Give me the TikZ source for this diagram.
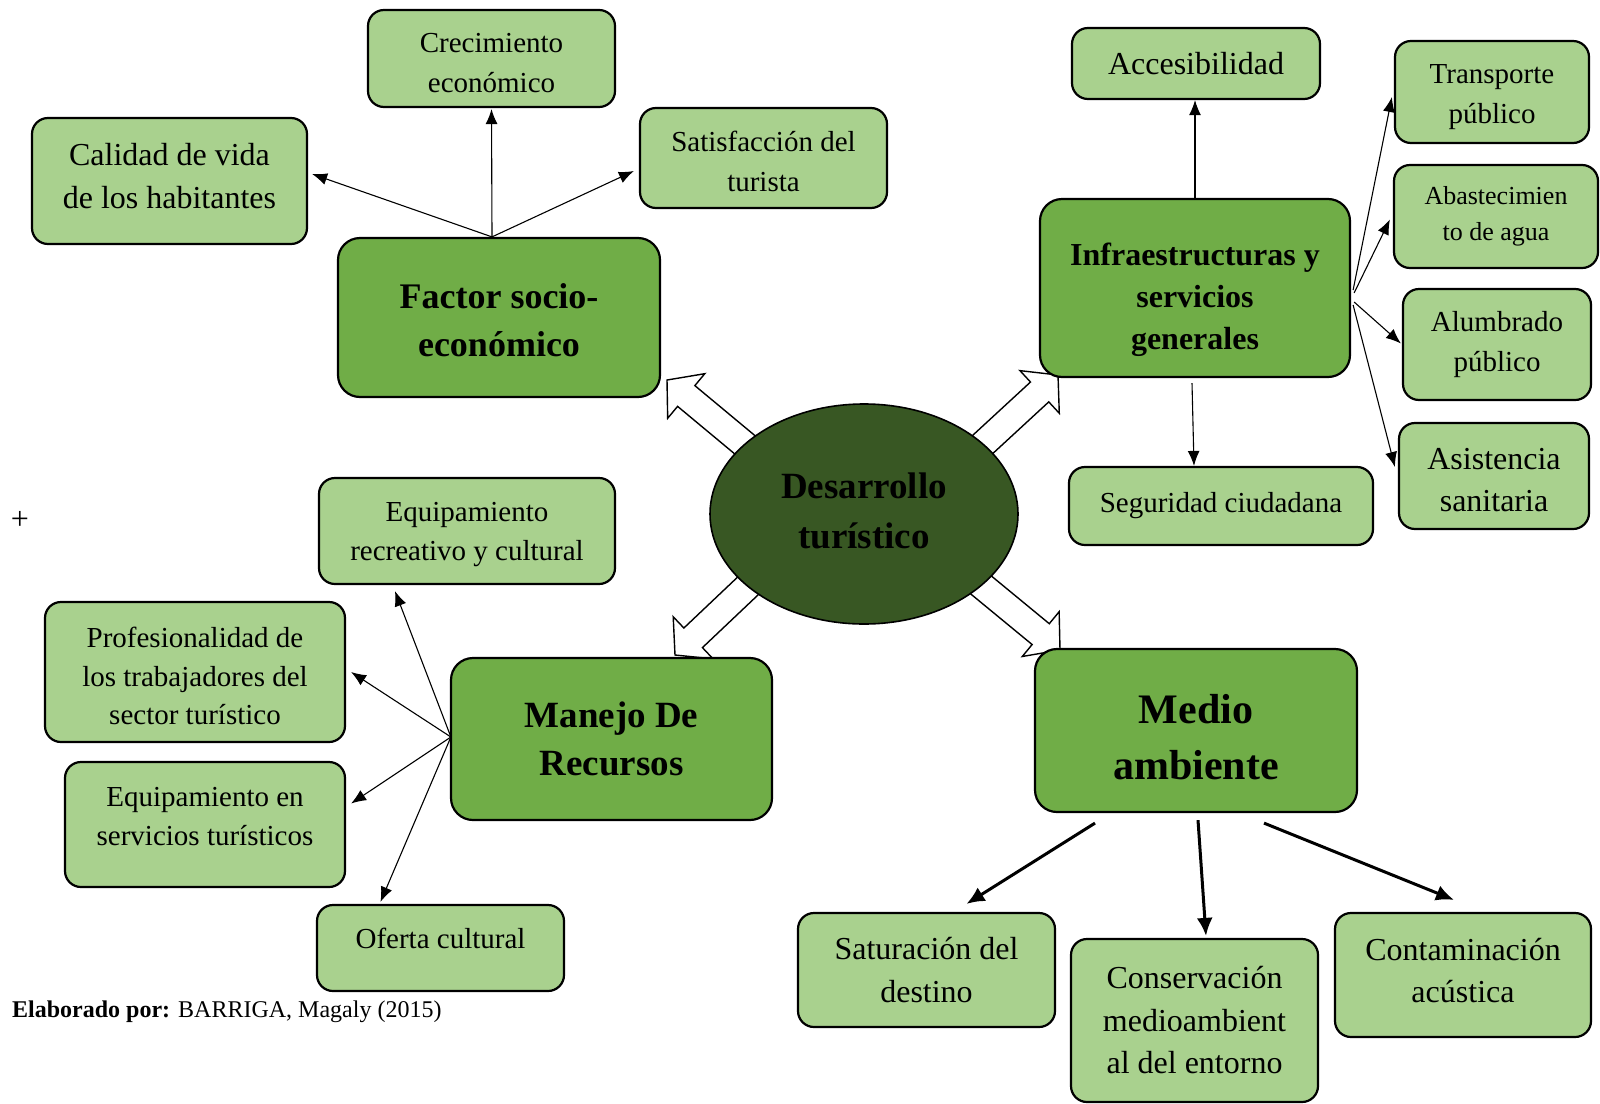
\documentclass[tikz,border=0pt]{standalone}
\usepackage{fontspec}
\setmainfont{Liberation Serif}
\usetikzlibrary{arrows.meta,calc,shapes.geometric,backgrounds}
\definecolor{lgreen}{HTML}{A9D18E}
\definecolor{mgreen}{HTML}{70AD47}
\definecolor{dgreen}{HTML}{385723}
\newcommand\fs[2]{\fontsize{#1}{#2}\selectfont}
\tikzset{
  lbox/.style={draw=black, line width=2.2pt, rounded corners=16pt, fill=lgreen, align=center, inner sep=0pt},
  mbox/.style={draw=black, line width=2.2pt, rounded corners=22pt, fill=mgreen, align=center, inner sep=0pt},
  txt/.style={align=center, inner sep=0pt},
  thin arrow/.style={line width=1.1pt, -{Latex[length=15pt,width=12pt]}},
  thick arrow/.style={line width=3pt, -{Latex[length=18pt,width=16pt]}},
  harrow/.style={draw=black, line width=1.4pt, fill=white, line join=miter},
}
\newcommand\hollowarr[2]{%
  \path ($(#2)!25pt!(#1)$) coordinate (hb);
  \draw[harrow] ($(#1)!13.5pt!90:(#2)$) -- ($(hb)!13.5pt!90:(#2)$) -- ($(hb)!29pt!90:(#2)$) -- (#2)
    -- ($(hb)!29pt!-90:(#2)$) -- ($(hb)!13.5pt!-90:(#2)$) -- ($(#1)!13.5pt!-90:(#2)$) -- cycle;}
\begin{document}
\begin{tikzpicture}[x=1pt,y=-1pt]
\useasboundingbox (0,0) rectangle (1600,1103);

% central ellipse
\node[ellipse, draw=black, line width=1.6pt, fill=dgreen, minimum width=308pt, minimum height=220pt, inner sep=0pt,
  label={[txt, name=dev-t, font=\fs{37}{50}\bfseries, yshift=3pt]center:{Desarrollo\\turístico}}] (dev) at (864,514) {};

% main boxes
\node[mbox, minimum width=322pt, minimum height=159pt,
  label={[txt, name=factor-t, font=\fs{36}{48}\bfseries, yshift=-3pt]center:{Factor socio-\\económico}}] (factor) at (499,317.5) {};
\node[mbox, minimum width=310pt, minimum height=178pt,
  label={[txt, name=infra-t, font=\fs{32}{42}\bfseries, yshift=-12pt]center:{Infraestructuras y\\servicios\\generales}}] (infra) at (1195,288) {};
\node[mbox, minimum width=321pt, minimum height=162pt, font=\fs{37}{48}\bfseries] (manejo) at (611.5,739) {Manejo De\\Recursos};
\node[mbox, minimum width=322pt, minimum height=163pt,
  label={[txt, name=medio-t, font=\fs{42}{56}\bfseries, yshift=-7pt]center:{Medio\\ambiente}}] (medio) at (1196,730.5) {};

% factor socio-economico children
\node[lbox, minimum width=247pt, minimum height=97pt,
  label={[txt, name=crec-t, font=\fs{29}{40}, yshift=-5pt]center:{Crecimiento\\económico}}] (crec) at (491.5,58.5) {};
\node[lbox, minimum width=275pt, minimum height=126pt,
  label={[txt, name=cal-t, font=\fs{32}{43}, yshift=5pt]center:{Calidad de vida\\de los habitantes}}] (cal) at (169.5,181) {};
\node[lbox, minimum width=247pt, minimum height=100pt,
  label={[txt, name=sat-t, font=\fs{29}{40}, yshift=-3pt]center:{Satisfacción del\\turista}}] (sat) at (763.5,158) {};

% infraestructura children
\node[lbox, minimum width=248pt, minimum height=71pt, font=\fs{32}{42}] (acc) at (1196,63.5) {Accesibilidad};
\node[lbox, minimum width=194pt, minimum height=102pt,
  label={[txt, name=trans-t, font=\fs{29}{40}, yshift=-5pt]center:{Transporte\\público}}] (trans) at (1492,92) {};
\node[lbox, minimum width=204pt, minimum height=103pt, font=\fs{26}{36}] (abast) at (1496,216.5) {Abastecimien\\to de agua};
\node[lbox, minimum width=188pt, minimum height=111pt, font=\fs{29}{40}] (alum) at (1497,344.5) {Alumbrado\\público};
\node[lbox, minimum width=190pt, minimum height=106pt,
  label={[txt, name=asist-t, font=\fs{32}{42}, yshift=-4pt]center:{Asistencia\\sanitaria}}] (asist) at (1494,476) {};
\node[lbox, minimum width=304pt, minimum height=78pt, font=\fs{29}{40}] (seg) at (1221,506) {Seguridad ciudadana};

% manejo children
\node[lbox, minimum width=296pt, minimum height=106pt,
  label={[txt, name=eqrec-t, font=\fs{29}{39}, yshift=-4pt]center:{Equipamiento\\recreativo y cultural}}] (eqrec) at (467,531) {};
\node[lbox, minimum width=300pt, minimum height=140pt,
  label={[txt, name=prof-t, font=\fs{29}{38.5}, yshift=-4pt]center:{Profesionalidad de\\los trabajadores del\\sector turístico}}] (prof) at (195,672) {};
\node[lbox, minimum width=280pt, minimum height=125pt,
  label={[txt, name=eqserv-t, font=\fs{29}{39}, yshift=8pt]center:{Equipamiento en\\servicios turísticos}}] (eqserv) at (205,824.5) {};
\node[lbox, minimum width=247pt, minimum height=86pt,
  label={[txt, name=oferta-t, font=\fs{29}{40}, yshift=10pt]center:{Oferta cultural}}] (oferta) at (440.5,948) {};

% medio children
\node[lbox, minimum width=257pt, minimum height=114pt, font=\fs{32}{43}] (satur) at (926.5,970) {Saturación del\\destino};
\node[lbox, minimum width=247pt, minimum height=163pt, font=\fs{32}{42.5}] (conserv) at (1194.5,1020.5) {Conservación\\medioambient\\al del entorno};
\node[lbox, minimum width=256pt, minimum height=124pt,
  label={[txt, name=contam-t, font=\fs{32}{42}, yshift=4pt]center:{Contaminación\\acústica}}] (contam) at (1463,975) {};

% hollow block arrows (behind)
\coordinate (s1) at (786,479); \coordinate (t1) at (667,380);
\coordinate (s2) at (942,482); \coordinate (t2) at (1058,375);
\coordinate (s3) at (789,547); \coordinate (t3) at (675,655);
\coordinate (s4) at (941,552); \coordinate (t4) at (1060,650);
\begin{scope}[on background layer]
\hollowarr{s1}{t1}
\hollowarr{s2}{t2}
\hollowarr{s3}{t3}
\hollowarr{s4}{t4}
\end{scope}

% factor arrows
\draw[thin arrow] ([shift={(-7,0)}]factor.north) -- ([shift={(4,-7)}]cal.east);
\draw[thin arrow] ([shift={(-7,0)}]factor.north) -- ([shift={(0,1)}]crec.south);
\draw[thin arrow] ([shift={(-7,0)}]factor.north) -- ([shift={(-5,13)}]sat.west);

% infra arrows
\draw[thin arrow] (infra.north) -- (infra.north |- acc.south);
\draw[thin arrow] ([shift={(-3,5)}]infra.south) -- ([shift={(-27,0)}]seg.north);
\draw[thin arrow] ([shift={(2,2)}]infra.east) -- ([shift={(-2,5)}]trans.west);
\draw[thin arrow] ([shift={(3,5)}]infra.east) -- ([shift={(-3,3)}]abast.west);
\draw[thin arrow] ([shift={(3,14)}]infra.east) -- ([shift={(-1,-1)}]alum.west);
\draw[thin arrow] ([shift={(2,17)}]infra.east) -- ([shift={(-3,-9)}]asist.west);

% manejo arrows
\draw[thin arrow] ([shift={(1,-2)}]manejo.west) -- ([shift={(-72,6)}]eqrec.south);
\draw[thin arrow] ([shift={(1,-2)}]manejo.west) -- ([shift={(5,0)}]prof.east);
\draw[thin arrow] ([shift={(1,-2)}]manejo.west) -- ([shift={(5,-21)}]eqserv.east);
\draw[thin arrow] ([shift={(1,-2)}]manejo.west) -- ([shift={(-60,-2)}]oferta.north);

% medio arrows
\draw[thick arrow] ([shift={(-101,10)}]medio.south) -- ([shift={(40,-8)}]satur.north);
\draw[thick arrow] ([shift={(2,7)}]medio.south) -- ([shift={(11.5,-2)}]conserv.north);
\draw[thick arrow] ([shift={(68,10)}]medio.south) -- ([shift={(-9,-12)}]contam.north);

% misc text
\node[font=\fs{32}{36}] (plus) at (20,520) {+};
\node[anchor=west, inner sep=0pt, font=\fs{24}{28}] (foot) at (12,1012) {\textbf{Elaborado por:} BARRIGA, Magaly (2015)};
\end{tikzpicture}
\end{document}
